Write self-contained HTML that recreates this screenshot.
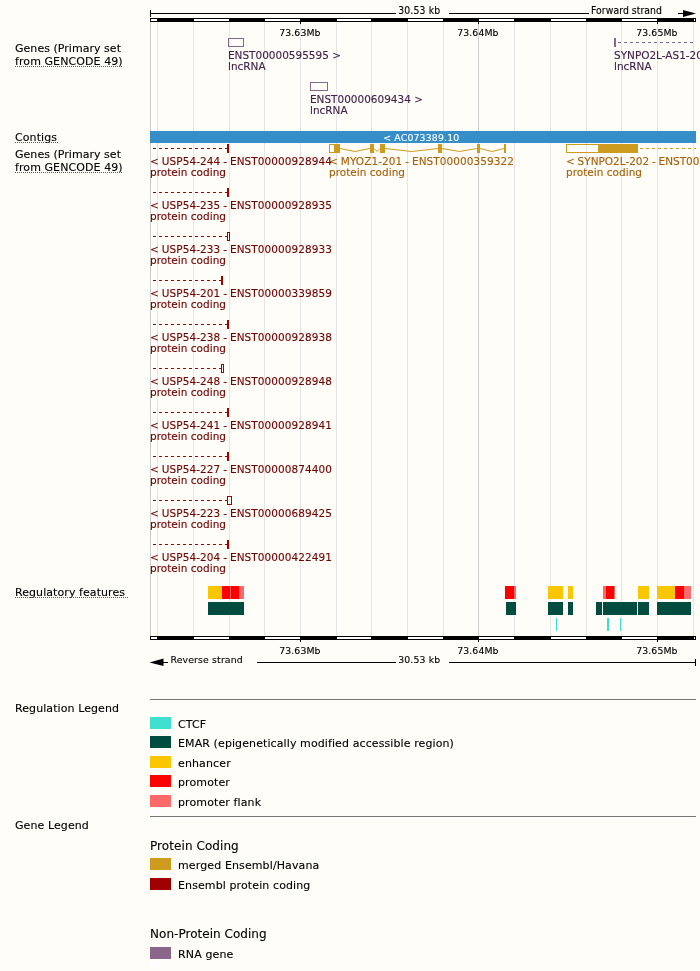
<!DOCTYPE html>
<html><head><meta charset="utf-8"><title>Region in detail</title>
<style>
html,body{margin:0;padding:0;background:#fffdf7;}
body{width:700px;height:971px;overflow:hidden;}
svg{display:block;font-family:"DejaVu Sans","Liberation Sans",sans-serif;}
svg rect{shape-rendering:crispEdges;}
svg text{white-space:pre;font-variant-ligatures:none;font-kerning:normal;}
</style></head><body>
<svg width="700" height="971" viewBox="0 0 700 971">
<rect x="0" y="0" width="700" height="971" fill="#fffdf7"/>
<rect x="150" y="22" width="1" height="614" fill="#cccccc" />
<rect x="157" y="22" width="1" height="614" fill="#e5e5e5" />
<rect x="193" y="22" width="1" height="614" fill="#e5e5e5" />
<rect x="229" y="22" width="1" height="614" fill="#e5e5e5" />
<rect x="264" y="22" width="1" height="614" fill="#e5e5e5" />
<rect x="300" y="22" width="1" height="614" fill="#e5e5e5" />
<rect x="336" y="22" width="1" height="614" fill="#e5e5e5" />
<rect x="371" y="22" width="1" height="614" fill="#e5e5e5" />
<rect x="407" y="22" width="1" height="614" fill="#e5e5e5" />
<rect x="443" y="22" width="1" height="614" fill="#e5e5e5" />
<rect x="478" y="22" width="1" height="614" fill="#cccccc" />
<rect x="514" y="22" width="1" height="614" fill="#e5e5e5" />
<rect x="550" y="22" width="1" height="614" fill="#e5e5e5" />
<rect x="586" y="22" width="1" height="614" fill="#e5e5e5" />
<rect x="621" y="22" width="1" height="614" fill="#e5e5e5" />
<rect x="657" y="22" width="1" height="614" fill="#e5e5e5" />
<rect x="693" y="22" width="1" height="614" fill="#e5e5e5" />
<rect x="150" y="18" width="546" height="4" fill="#000" />
<rect x="151" y="19" width="6" height="2" fill="#fff" />
<rect x="194" y="19" width="35" height="2" fill="#fff" />
<rect x="265" y="19" width="35" height="2" fill="#fff" />
<rect x="337" y="19" width="34" height="2" fill="#fff" />
<rect x="408" y="19" width="35" height="2" fill="#fff" />
<rect x="479" y="19" width="35" height="2" fill="#fff" />
<rect x="551" y="19" width="35" height="2" fill="#fff" />
<rect x="622" y="19" width="35" height="2" fill="#fff" />
<rect x="694" y="19" width="1" height="2" fill="#fff" />
<rect x="150" y="636" width="546" height="4" fill="#000" />
<rect x="151" y="637" width="6" height="2" fill="#fff" />
<rect x="194" y="637" width="35" height="2" fill="#fff" />
<rect x="265" y="637" width="35" height="2" fill="#fff" />
<rect x="337" y="637" width="34" height="2" fill="#fff" />
<rect x="408" y="637" width="35" height="2" fill="#fff" />
<rect x="479" y="637" width="35" height="2" fill="#fff" />
<rect x="551" y="637" width="35" height="2" fill="#fff" />
<rect x="622" y="637" width="35" height="2" fill="#fff" />
<rect x="694" y="637" width="1" height="2" fill="#fff" />
<rect x="300" y="22" width="1" height="2" fill="#000" />
<rect x="300" y="640" width="1" height="2" fill="#000" />
<text x="279.2" y="36" font-size="9.33" fill="#000" stroke="#000" stroke-width="0.12" textLength="41.3" lengthAdjust="spacing">73.63Mb</text>
<text x="279.2" y="654.3" font-size="9.33" fill="#000" stroke="#000" stroke-width="0.12" textLength="41.3" lengthAdjust="spacing">73.63Mb</text>
<rect x="478" y="22" width="1" height="2" fill="#000" />
<rect x="478" y="640" width="1" height="2" fill="#000" />
<text x="457.2" y="36" font-size="9.33" fill="#000" stroke="#000" stroke-width="0.12" textLength="41.3" lengthAdjust="spacing">73.64Mb</text>
<text x="457.2" y="654.3" font-size="9.33" fill="#000" stroke="#000" stroke-width="0.12" textLength="41.3" lengthAdjust="spacing">73.64Mb</text>
<rect x="657" y="22" width="1" height="2" fill="#000" />
<rect x="657" y="640" width="1" height="2" fill="#000" />
<text x="636.2" y="36" font-size="9.33" fill="#000" stroke="#000" stroke-width="0.12" textLength="41.3" lengthAdjust="spacing">73.65Mb</text>
<text x="636.2" y="654.3" font-size="9.33" fill="#000" stroke="#000" stroke-width="0.12" textLength="41.3" lengthAdjust="spacing">73.65Mb</text>
<rect x="150" y="10" width="1" height="7" fill="#000" />
<rect x="150" y="13" width="246" height="1" fill="#000" />
<text x="0" y="0" font-size="9.33" fill="#000" stroke="#000" stroke-width="0.12" transform="translate(398.2,14) scale(1,1.03)" textLength="42" lengthAdjust="spacing">30.53 kb</text>
<rect x="449" y="13" width="140" height="1" fill="#000" />
<text x="0" y="0" font-size="9.33" fill="#000" stroke="#000" stroke-width="0.12" transform="translate(591,14) scale(1,1.07)" textLength="71" lengthAdjust="spacing">Forward strand</text>
<rect x="678" y="13" width="8" height="1" fill="#000" />
<polygon points="683,10 696,13.5 683,17" fill="#000"/>
<polygon points="163.5,658.5 149.5,662.5 163.5,666" fill="#000"/>
<rect x="163" y="662" width="5" height="1" fill="#000" />
<text x="170.5" y="663" font-size="9.33" fill="#000" stroke="#000" stroke-width="0.12" textLength="72.2" lengthAdjust="spacing">Reverse strand</text>
<rect x="257" y="662" width="139" height="1" fill="#000" />
<text x="398.2" y="663" font-size="9.33" fill="#000" stroke="#000" stroke-width="0.12" textLength="42" lengthAdjust="spacing">30.53 kb</text>
<rect x="449" y="662" width="247" height="1" fill="#000" />
<rect x="695" y="659" width="1" height="7" fill="#000" />
<text x="15" y="52" font-size="11" fill="#000" stroke="#000" stroke-width="0.12" textLength="106" lengthAdjust="spacing">Genes (Primary set</text>
<text x="15" y="65" font-size="11" fill="#000" stroke="#000" stroke-width="0.12" textLength="107.6" lengthAdjust="spacing">from GENCODE 49)</text>
<line x1="15" x2="123" y1="66.5" y2="66.5" stroke="#2f62c0" stroke-width="1" stroke-dasharray="1,1"/>
<text x="15" y="141" font-size="11" fill="#000" stroke="#000" stroke-width="0.12" textLength="42.1" lengthAdjust="spacing">Contigs</text>
<line x1="15" x2="58" y1="142.5" y2="142.5" stroke="#2f62c0" stroke-width="1" stroke-dasharray="1,1"/>
<text x="15" y="158" font-size="11" fill="#000" stroke="#000" stroke-width="0.12" textLength="106" lengthAdjust="spacing">Genes (Primary set</text>
<text x="15" y="171" font-size="11" fill="#000" stroke="#000" stroke-width="0.12" textLength="107.6" lengthAdjust="spacing">from GENCODE 49)</text>
<line x1="15" x2="123" y1="172.5" y2="172.5" stroke="#2f62c0" stroke-width="1" stroke-dasharray="1,1"/>
<text x="15" y="596" font-size="11" fill="#000" stroke="#000" stroke-width="0.12" textLength="110" lengthAdjust="spacing">Regulatory features</text>
<line x1="15" x2="129" y1="597.5" y2="597.5" stroke="#2f62c0" stroke-width="1" stroke-dasharray="1,1"/>
<rect x="228.5" y="38.5" width="15" height="8" fill="none" stroke="#8b668b" stroke-width="1"/>
<text x="0" y="0" font-size="10.5" fill="#42214a" stroke="#42214a" stroke-width="0.12" transform="translate(228,59) scale(1,1.06)" textLength="113" lengthAdjust="spacing">ENST00000595595 &gt;</text>
<text x="0" y="0" font-size="10.5" fill="#42214a" stroke="#42214a" stroke-width="0.12" transform="translate(228,70) scale(1,1.06)">lncRNA</text>
<rect x="310.5" y="82.5" width="17" height="8" fill="none" stroke="#8b668b" stroke-width="1"/>
<text x="0" y="0" font-size="10.5" fill="#42214a" stroke="#42214a" stroke-width="0.12" transform="translate(310,103) scale(1,1.06)" textLength="113" lengthAdjust="spacing">ENST00000609434 &gt;</text>
<text x="0" y="0" font-size="10.5" fill="#42214a" stroke="#42214a" stroke-width="0.12" transform="translate(310,114) scale(1,1.06)">lncRNA</text>
<rect x="614" y="38" width="2" height="9" fill="#8b668b" />
<rect x="618" y="42" width="3" height="1" fill="#8b668b" />
<rect x="624" y="42" width="3" height="1" fill="#8b668b" />
<rect x="630" y="42" width="3" height="1" fill="#8b668b" />
<rect x="636" y="42" width="3" height="1" fill="#8b668b" />
<rect x="642" y="42" width="3" height="1" fill="#8b668b" />
<rect x="648" y="42" width="3" height="1" fill="#8b668b" />
<rect x="654" y="42" width="3" height="1" fill="#8b668b" />
<rect x="660" y="42" width="3" height="1" fill="#8b668b" />
<rect x="666" y="42" width="3" height="1" fill="#8b668b" />
<rect x="672" y="42" width="3" height="1" fill="#8b668b" />
<rect x="678" y="42" width="3" height="1" fill="#8b668b" />
<rect x="684" y="42" width="3" height="1" fill="#8b668b" />
<rect x="690" y="42" width="3" height="1" fill="#8b668b" />
<text x="0" y="0" font-size="10.5" fill="#42214a" stroke="#42214a" stroke-width="0.12" transform="translate(614,59) scale(1,1.06)">SYNPO2L-AS1-201</text>
<text x="0" y="0" font-size="10.5" fill="#42214a" stroke="#42214a" stroke-width="0.12" transform="translate(614,70) scale(1,1.06)">lncRNA</text>
<rect x="150" y="131" width="546" height="12" fill="#368ec9" />
<text x="383.2" y="141" font-size="9.33" fill="#fff" stroke="#fff" stroke-width="0.12" textLength="76" lengthAdjust="spacing">&lt; AC073389.10</text>
<rect x="153" y="148" width="3" height="1" fill="#a00000" />
<rect x="159" y="148" width="3" height="1" fill="#a00000" />
<rect x="165" y="148" width="3" height="1" fill="#a00000" />
<rect x="171" y="148" width="3" height="1" fill="#a00000" />
<rect x="177" y="148" width="3" height="1" fill="#a00000" />
<rect x="183" y="148" width="3" height="1" fill="#a00000" />
<rect x="189" y="148" width="3" height="1" fill="#a00000" />
<rect x="195" y="148" width="3" height="1" fill="#a00000" />
<rect x="201" y="148" width="3" height="1" fill="#a00000" />
<rect x="207" y="148" width="3" height="1" fill="#a00000" />
<rect x="213" y="148" width="3" height="1" fill="#a00000" />
<rect x="219" y="148" width="3" height="1" fill="#a00000" />
<rect x="225" y="148" width="2" height="1" fill="#a00000" />
<rect x="227" y="144" width="2" height="9" fill="#a00000" />
<text x="0" y="0" font-size="10.5" fill="#6e0000" stroke="#6e0000" stroke-width="0.12" word-spacing="-0.5" transform="translate(150,165) scale(1,1.06)" textLength="182" lengthAdjust="spacing">&lt; USP54-244 - ENST00000928944</text>
<text x="0" y="0" font-size="10.5" fill="#6e0000" stroke="#6e0000" stroke-width="0.12" transform="translate(150,176) scale(1,1.06)" textLength="76" lengthAdjust="spacing">protein coding</text>
<rect x="153" y="192" width="3" height="1" fill="#a00000" />
<rect x="159" y="192" width="3" height="1" fill="#a00000" />
<rect x="165" y="192" width="3" height="1" fill="#a00000" />
<rect x="171" y="192" width="3" height="1" fill="#a00000" />
<rect x="177" y="192" width="3" height="1" fill="#a00000" />
<rect x="183" y="192" width="3" height="1" fill="#a00000" />
<rect x="189" y="192" width="3" height="1" fill="#a00000" />
<rect x="195" y="192" width="3" height="1" fill="#a00000" />
<rect x="201" y="192" width="3" height="1" fill="#a00000" />
<rect x="207" y="192" width="3" height="1" fill="#a00000" />
<rect x="213" y="192" width="3" height="1" fill="#a00000" />
<rect x="219" y="192" width="3" height="1" fill="#a00000" />
<rect x="225" y="192" width="2" height="1" fill="#a00000" />
<rect x="227" y="188" width="2" height="9" fill="#a00000" />
<text x="0" y="0" font-size="10.5" fill="#6e0000" stroke="#6e0000" stroke-width="0.12" word-spacing="-0.5" transform="translate(150,209) scale(1,1.06)" textLength="182" lengthAdjust="spacing">&lt; USP54-235 - ENST00000928935</text>
<text x="0" y="0" font-size="10.5" fill="#6e0000" stroke="#6e0000" stroke-width="0.12" transform="translate(150,220) scale(1,1.06)" textLength="76" lengthAdjust="spacing">protein coding</text>
<rect x="153" y="236" width="3" height="1" fill="#a00000" />
<rect x="159" y="236" width="3" height="1" fill="#a00000" />
<rect x="165" y="236" width="3" height="1" fill="#a00000" />
<rect x="171" y="236" width="3" height="1" fill="#a00000" />
<rect x="177" y="236" width="3" height="1" fill="#a00000" />
<rect x="183" y="236" width="3" height="1" fill="#a00000" />
<rect x="189" y="236" width="3" height="1" fill="#a00000" />
<rect x="195" y="236" width="3" height="1" fill="#a00000" />
<rect x="201" y="236" width="3" height="1" fill="#a00000" />
<rect x="207" y="236" width="3" height="1" fill="#a00000" />
<rect x="213" y="236" width="3" height="1" fill="#a00000" />
<rect x="219" y="236" width="3" height="1" fill="#a00000" />
<rect x="225" y="236" width="2" height="1" fill="#a00000" />
<rect x="227.5" y="232.5" width="2" height="8" fill="none" stroke="#a00000" stroke-width="1"/>
<text x="0" y="0" font-size="10.5" fill="#6e0000" stroke="#6e0000" stroke-width="0.12" word-spacing="-0.5" transform="translate(150,253) scale(1,1.06)" textLength="182" lengthAdjust="spacing">&lt; USP54-233 - ENST00000928933</text>
<text x="0" y="0" font-size="10.5" fill="#6e0000" stroke="#6e0000" stroke-width="0.12" transform="translate(150,264) scale(1,1.06)" textLength="76" lengthAdjust="spacing">protein coding</text>
<rect x="153" y="280" width="3" height="1" fill="#a00000" />
<rect x="159" y="280" width="3" height="1" fill="#a00000" />
<rect x="165" y="280" width="3" height="1" fill="#a00000" />
<rect x="171" y="280" width="3" height="1" fill="#a00000" />
<rect x="177" y="280" width="3" height="1" fill="#a00000" />
<rect x="183" y="280" width="3" height="1" fill="#a00000" />
<rect x="189" y="280" width="3" height="1" fill="#a00000" />
<rect x="195" y="280" width="3" height="1" fill="#a00000" />
<rect x="201" y="280" width="3" height="1" fill="#a00000" />
<rect x="207" y="280" width="3" height="1" fill="#a00000" />
<rect x="213" y="280" width="3" height="1" fill="#a00000" />
<rect x="219" y="280" width="2" height="1" fill="#a00000" />
<rect x="221" y="276" width="2" height="9" fill="#a00000" />
<text x="0" y="0" font-size="10.5" fill="#6e0000" stroke="#6e0000" stroke-width="0.12" word-spacing="-0.5" transform="translate(150,297) scale(1,1.06)" textLength="182" lengthAdjust="spacing">&lt; USP54-201 - ENST00000339859</text>
<text x="0" y="0" font-size="10.5" fill="#6e0000" stroke="#6e0000" stroke-width="0.12" transform="translate(150,308) scale(1,1.06)" textLength="76" lengthAdjust="spacing">protein coding</text>
<rect x="153" y="324" width="3" height="1" fill="#a00000" />
<rect x="159" y="324" width="3" height="1" fill="#a00000" />
<rect x="165" y="324" width="3" height="1" fill="#a00000" />
<rect x="171" y="324" width="3" height="1" fill="#a00000" />
<rect x="177" y="324" width="3" height="1" fill="#a00000" />
<rect x="183" y="324" width="3" height="1" fill="#a00000" />
<rect x="189" y="324" width="3" height="1" fill="#a00000" />
<rect x="195" y="324" width="3" height="1" fill="#a00000" />
<rect x="201" y="324" width="3" height="1" fill="#a00000" />
<rect x="207" y="324" width="3" height="1" fill="#a00000" />
<rect x="213" y="324" width="3" height="1" fill="#a00000" />
<rect x="219" y="324" width="3" height="1" fill="#a00000" />
<rect x="225" y="324" width="2" height="1" fill="#a00000" />
<rect x="227" y="320" width="2" height="9" fill="#a00000" />
<text x="0" y="0" font-size="10.5" fill="#6e0000" stroke="#6e0000" stroke-width="0.12" word-spacing="-0.5" transform="translate(150,341) scale(1,1.06)" textLength="182" lengthAdjust="spacing">&lt; USP54-238 - ENST00000928938</text>
<text x="0" y="0" font-size="10.5" fill="#6e0000" stroke="#6e0000" stroke-width="0.12" transform="translate(150,352) scale(1,1.06)" textLength="76" lengthAdjust="spacing">protein coding</text>
<rect x="153" y="368" width="3" height="1" fill="#a00000" />
<rect x="159" y="368" width="3" height="1" fill="#a00000" />
<rect x="165" y="368" width="3" height="1" fill="#a00000" />
<rect x="171" y="368" width="3" height="1" fill="#a00000" />
<rect x="177" y="368" width="3" height="1" fill="#a00000" />
<rect x="183" y="368" width="3" height="1" fill="#a00000" />
<rect x="189" y="368" width="3" height="1" fill="#a00000" />
<rect x="195" y="368" width="3" height="1" fill="#a00000" />
<rect x="201" y="368" width="3" height="1" fill="#a00000" />
<rect x="207" y="368" width="3" height="1" fill="#a00000" />
<rect x="213" y="368" width="3" height="1" fill="#a00000" />
<rect x="219" y="368" width="2" height="1" fill="#a00000" />
<rect x="221.5" y="364.5" width="2" height="8" fill="none" stroke="#a00000" stroke-width="1"/>
<text x="0" y="0" font-size="10.5" fill="#6e0000" stroke="#6e0000" stroke-width="0.12" word-spacing="-0.5" transform="translate(150,385) scale(1,1.06)" textLength="182" lengthAdjust="spacing">&lt; USP54-248 - ENST00000928948</text>
<text x="0" y="0" font-size="10.5" fill="#6e0000" stroke="#6e0000" stroke-width="0.12" transform="translate(150,396) scale(1,1.06)" textLength="76" lengthAdjust="spacing">protein coding</text>
<rect x="153" y="412" width="3" height="1" fill="#a00000" />
<rect x="159" y="412" width="3" height="1" fill="#a00000" />
<rect x="165" y="412" width="3" height="1" fill="#a00000" />
<rect x="171" y="412" width="3" height="1" fill="#a00000" />
<rect x="177" y="412" width="3" height="1" fill="#a00000" />
<rect x="183" y="412" width="3" height="1" fill="#a00000" />
<rect x="189" y="412" width="3" height="1" fill="#a00000" />
<rect x="195" y="412" width="3" height="1" fill="#a00000" />
<rect x="201" y="412" width="3" height="1" fill="#a00000" />
<rect x="207" y="412" width="3" height="1" fill="#a00000" />
<rect x="213" y="412" width="3" height="1" fill="#a00000" />
<rect x="219" y="412" width="3" height="1" fill="#a00000" />
<rect x="225" y="412" width="2" height="1" fill="#a00000" />
<rect x="227" y="408" width="2" height="9" fill="#a00000" />
<text x="0" y="0" font-size="10.5" fill="#6e0000" stroke="#6e0000" stroke-width="0.12" word-spacing="-0.5" transform="translate(150,429) scale(1,1.06)" textLength="182" lengthAdjust="spacing">&lt; USP54-241 - ENST00000928941</text>
<text x="0" y="0" font-size="10.5" fill="#6e0000" stroke="#6e0000" stroke-width="0.12" transform="translate(150,440) scale(1,1.06)" textLength="76" lengthAdjust="spacing">protein coding</text>
<rect x="153" y="456" width="3" height="1" fill="#a00000" />
<rect x="159" y="456" width="3" height="1" fill="#a00000" />
<rect x="165" y="456" width="3" height="1" fill="#a00000" />
<rect x="171" y="456" width="3" height="1" fill="#a00000" />
<rect x="177" y="456" width="3" height="1" fill="#a00000" />
<rect x="183" y="456" width="3" height="1" fill="#a00000" />
<rect x="189" y="456" width="3" height="1" fill="#a00000" />
<rect x="195" y="456" width="3" height="1" fill="#a00000" />
<rect x="201" y="456" width="3" height="1" fill="#a00000" />
<rect x="207" y="456" width="3" height="1" fill="#a00000" />
<rect x="213" y="456" width="3" height="1" fill="#a00000" />
<rect x="219" y="456" width="3" height="1" fill="#a00000" />
<rect x="225" y="456" width="2" height="1" fill="#a00000" />
<rect x="227" y="452" width="2" height="9" fill="#a00000" />
<text x="0" y="0" font-size="10.5" fill="#6e0000" stroke="#6e0000" stroke-width="0.12" word-spacing="-0.5" transform="translate(150,473) scale(1,1.06)" textLength="182" lengthAdjust="spacing">&lt; USP54-227 - ENST00000874400</text>
<text x="0" y="0" font-size="10.5" fill="#6e0000" stroke="#6e0000" stroke-width="0.12" transform="translate(150,484) scale(1,1.06)" textLength="76" lengthAdjust="spacing">protein coding</text>
<rect x="153" y="500" width="3" height="1" fill="#a00000" />
<rect x="159" y="500" width="3" height="1" fill="#a00000" />
<rect x="165" y="500" width="3" height="1" fill="#a00000" />
<rect x="171" y="500" width="3" height="1" fill="#a00000" />
<rect x="177" y="500" width="3" height="1" fill="#a00000" />
<rect x="183" y="500" width="3" height="1" fill="#a00000" />
<rect x="189" y="500" width="3" height="1" fill="#a00000" />
<rect x="195" y="500" width="3" height="1" fill="#a00000" />
<rect x="201" y="500" width="3" height="1" fill="#a00000" />
<rect x="207" y="500" width="3" height="1" fill="#a00000" />
<rect x="213" y="500" width="3" height="1" fill="#a00000" />
<rect x="219" y="500" width="3" height="1" fill="#a00000" />
<rect x="225" y="500" width="2" height="1" fill="#a00000" />
<rect x="227.5" y="496.5" width="4" height="8" fill="none" stroke="#a00000" stroke-width="1"/>
<text x="0" y="0" font-size="10.5" fill="#6e0000" stroke="#6e0000" stroke-width="0.12" word-spacing="-0.5" transform="translate(150,517) scale(1,1.06)" textLength="182" lengthAdjust="spacing">&lt; USP54-223 - ENST00000689425</text>
<text x="0" y="0" font-size="10.5" fill="#6e0000" stroke="#6e0000" stroke-width="0.12" transform="translate(150,528) scale(1,1.06)" textLength="76" lengthAdjust="spacing">protein coding</text>
<rect x="153" y="544" width="3" height="1" fill="#a00000" />
<rect x="159" y="544" width="3" height="1" fill="#a00000" />
<rect x="165" y="544" width="3" height="1" fill="#a00000" />
<rect x="171" y="544" width="3" height="1" fill="#a00000" />
<rect x="177" y="544" width="3" height="1" fill="#a00000" />
<rect x="183" y="544" width="3" height="1" fill="#a00000" />
<rect x="189" y="544" width="3" height="1" fill="#a00000" />
<rect x="195" y="544" width="3" height="1" fill="#a00000" />
<rect x="201" y="544" width="3" height="1" fill="#a00000" />
<rect x="207" y="544" width="3" height="1" fill="#a00000" />
<rect x="213" y="544" width="3" height="1" fill="#a00000" />
<rect x="219" y="544" width="3" height="1" fill="#a00000" />
<rect x="225" y="544" width="2" height="1" fill="#a00000" />
<rect x="227" y="540" width="2" height="9" fill="#a00000" />
<text x="0" y="0" font-size="10.5" fill="#6e0000" stroke="#6e0000" stroke-width="0.12" word-spacing="-0.5" transform="translate(150,561) scale(1,1.06)" textLength="182" lengthAdjust="spacing">&lt; USP54-204 - ENST00000422491</text>
<text x="0" y="0" font-size="10.5" fill="#6e0000" stroke="#6e0000" stroke-width="0.12" transform="translate(150,572) scale(1,1.06)" textLength="76" lengthAdjust="spacing">protein coding</text>
<rect x="329.5" y="144.5" width="5" height="8" fill="none" stroke="#cd9b1d" stroke-width="1"/>
<rect x="334" y="144" width="6" height="9" fill="#cd9b1d" />
<rect x="370" y="144" width="4" height="9" fill="#cd9b1d" />
<rect x="380" y="144" width="5" height="9" fill="#cd9b1d" />
<rect x="438" y="144" width="4" height="9" fill="#cd9b1d" />
<rect x="477" y="144" width="3" height="9" fill="#cd9b1d" />
<rect x="504" y="144" width="2" height="9" fill="#cd9b1d" />
<polyline points="340,148.5 355.0,151.5 370,148.5" fill="none" stroke="#cd9b1d" stroke-width="1" shape-rendering="auto"/>
<polyline points="374,148.5 377.0,151.5 380,148.5" fill="none" stroke="#cd9b1d" stroke-width="1" shape-rendering="auto"/>
<polyline points="385,148.5 411.5,151.5 438,148.5" fill="none" stroke="#cd9b1d" stroke-width="1" shape-rendering="auto"/>
<polyline points="442,148.5 459.5,151.5 477,148.5" fill="none" stroke="#cd9b1d" stroke-width="1" shape-rendering="auto"/>
<polyline points="480,148.5 492.0,151.5 504,148.5" fill="none" stroke="#cd9b1d" stroke-width="1" shape-rendering="auto"/>
<text x="0" y="0" font-size="10.5" fill="#a6600a" stroke="#a6600a" stroke-width="0.12" word-spacing="-0.5" transform="translate(329,165) scale(1,1.06)" textLength="185" lengthAdjust="spacing">&lt; MYOZ1-201 - ENST00000359322</text>
<text x="0" y="0" font-size="10.5" fill="#a6600a" stroke="#a6600a" stroke-width="0.12" transform="translate(329,176) scale(1,1.06)" textLength="76" lengthAdjust="spacing">protein coding</text>
<rect x="566.5" y="144.5" width="32" height="8" fill="none" stroke="#cd9b1d" stroke-width="1"/>
<rect x="598" y="144" width="40" height="9" fill="#cd9b1d" />
<rect x="640" y="148" width="3" height="1" fill="#cd9b1d" />
<rect x="646" y="148" width="3" height="1" fill="#cd9b1d" />
<rect x="652" y="148" width="3" height="1" fill="#cd9b1d" />
<rect x="658" y="148" width="3" height="1" fill="#cd9b1d" />
<rect x="664" y="148" width="3" height="1" fill="#cd9b1d" />
<rect x="670" y="148" width="3" height="1" fill="#cd9b1d" />
<rect x="676" y="148" width="3" height="1" fill="#cd9b1d" />
<rect x="682" y="148" width="3" height="1" fill="#cd9b1d" />
<rect x="688" y="148" width="3" height="1" fill="#cd9b1d" />
<rect x="694" y="148" width="2" height="1" fill="#cd9b1d" />
<text x="0" y="0" font-size="10.5" fill="#a6600a" stroke="#a6600a" stroke-width="0.12" word-spacing="-0.5" transform="translate(566,165) scale(1,1.06)">&lt; SYNPO2L-202 - ENST00000</text>
<text x="0" y="0" font-size="10.5" fill="#a6600a" stroke="#a6600a" stroke-width="0.12" transform="translate(566,176) scale(1,1.06)" textLength="76" lengthAdjust="spacing">protein coding</text>
<rect x="208" y="586" width="14" height="13" fill="#fac600" />
<rect x="222" y="586" width="17" height="13" fill="#ff0000" />
<rect x="239" y="586" width="5" height="13" fill="#ff6969" />
<rect x="230" y="586" width="1" height="13" fill="#ff6060" />
<rect x="208" y="602" width="36" height="13" fill="#004d40" />
<rect x="505" y="586" width="9" height="13" fill="#ff0000" />
<rect x="514" y="586" width="2" height="13" fill="#ff6969" />
<rect x="506" y="602" width="10" height="13" fill="#004d40" />
<rect x="548" y="586" width="15" height="13" fill="#fac600" />
<rect x="548" y="602" width="15" height="13" fill="#004d40" />
<rect x="568" y="586" width="5" height="13" fill="#fac600" />
<rect x="568" y="602" width="5" height="13" fill="#004d40" />
<rect x="603" y="586" width="3" height="13" fill="#ff6969" />
<rect x="606" y="586" width="8" height="13" fill="#ff0000" />
<rect x="614" y="586" width="1" height="13" fill="#ff6969" />
<rect x="596" y="602" width="6" height="13" fill="#004d40" />
<rect x="603" y="602" width="34" height="13" fill="#004d40" />
<rect x="638" y="602" width="11" height="13" fill="#004d40" />
<rect x="638" y="586" width="11" height="13" fill="#fac600" />
<rect x="657" y="586" width="18" height="13" fill="#fac600" />
<rect x="675" y="586" width="9" height="13" fill="#ff0000" />
<rect x="684" y="586" width="7" height="13" fill="#ff6969" />
<rect x="657" y="602" width="34" height="13" fill="#004d40" />
<rect x="556" y="618" width="1" height="13" fill="#40e0d0" />
<rect x="607" y="618" width="2" height="13" fill="#40e0d0" />
<rect x="620" y="618" width="1" height="13" fill="#40e0d0" />
<rect x="150" y="699" width="546" height="1" fill="#777" />
<text x="15" y="712" font-size="11" fill="#000" stroke="#000" stroke-width="0.12" textLength="104" lengthAdjust="spacing">Regulation Legend</text>
<rect x="150" y="717" width="21" height="12" fill="#40e0d0" />
<text x="178" y="728" font-size="11" fill="#000" stroke="#000" stroke-width="0.12" textLength="28.2" lengthAdjust="spacing">CTCF</text>
<rect x="150" y="736" width="21" height="12" fill="#004d40" />
<text x="178" y="747" font-size="11" fill="#000" stroke="#000" stroke-width="0.12" textLength="275.9" lengthAdjust="spacing">EMAR (epigenetically modified accessible region)</text>
<rect x="150" y="756" width="21" height="12" fill="#fac600" />
<text x="178" y="767" font-size="11" fill="#000" stroke="#000" stroke-width="0.12" textLength="52.7" lengthAdjust="spacing">enhancer</text>
<rect x="150" y="775" width="21" height="12" fill="#ff0000" />
<text x="178" y="786" font-size="11" fill="#000" stroke="#000" stroke-width="0.12" textLength="51.9" lengthAdjust="spacing">promoter</text>
<rect x="150" y="795" width="21" height="12" fill="#ff6969" />
<text x="178" y="806" font-size="11" fill="#000" stroke="#000" stroke-width="0.12" textLength="83.0" lengthAdjust="spacing">promoter flank</text>
<rect x="150" y="810" width="10" height="5" fill="#fff" />
<rect x="150" y="816" width="546" height="1" fill="#777" />
<text x="15" y="829" font-size="11" fill="#000" stroke="#000" stroke-width="0.12" textLength="73.8" lengthAdjust="spacing">Gene Legend</text>
<text x="150" y="850" font-size="12" fill="#000" stroke="#000" stroke-width="0.12" textLength="88.7" lengthAdjust="spacing">Protein Coding</text>
<rect x="150" y="858" width="21" height="12" fill="#cd9b1d" />
<text x="178" y="869" font-size="11" fill="#000" stroke="#000" stroke-width="0.12" textLength="141.3" lengthAdjust="spacing">merged Ensembl/Havana</text>
<rect x="150" y="878" width="21" height="12" fill="#a00000" />
<text x="178" y="889" font-size="11" fill="#000" stroke="#000" stroke-width="0.12" textLength="132.3" lengthAdjust="spacing">Ensembl protein coding</text>
<text x="150" y="938" font-size="12" fill="#000" stroke="#000" stroke-width="0.12" textLength="116.6" lengthAdjust="spacing">Non-Protein Coding</text>
<rect x="150" y="947" width="21" height="12" fill="#8b668b" />
<text x="178" y="958" font-size="11" fill="#000" stroke="#000" stroke-width="0.12" textLength="55.3" lengthAdjust="spacing">RNA gene</text>
<rect x="150" y="962" width="10" height="5" fill="#fff" />
</svg>
</body></html>
